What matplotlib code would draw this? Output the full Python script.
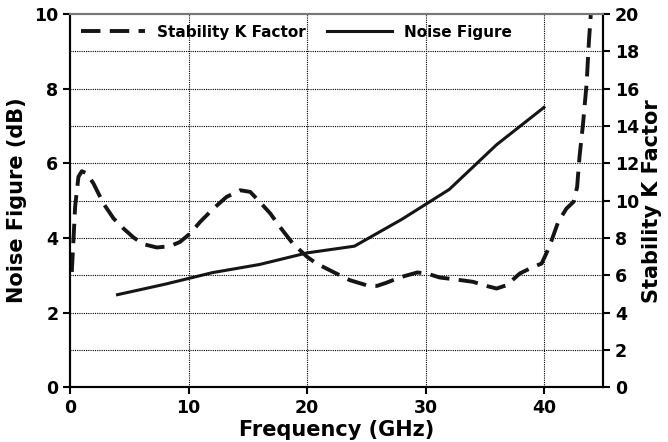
import matplotlib
matplotlib.use('Agg')
import matplotlib.pyplot as plt

# ── Data ──────────────────────────────────────────────────────────────────────
nf_freq = [4, 8, 12, 16, 20, 24, 28, 32, 36, 40]
nf_db   = [2.48, 2.76, 3.07, 3.29, 3.6, 3.78, 4.5, 5.3, 6.5, 7.5]

k_freq = [0.14, 0.28, 0.42, 0.70, 0.99, 1.41, 1.97, 2.81, 3.66, 4.5, 5.34,
          6.19, 7.31, 8.44, 9.28, 10.13, 10.97, 12.1, 13.2, 14.35, 15.2,
          16.0, 16.9, 17.7, 18.8, 20.0, 20.8, 22.2, 23.6, 25.0, 25.9, 26.7,
          27.8, 29.3, 30.1, 31.2, 32.6, 34.0, 35.2, 36.0, 36.85, 37.97, 39.1,
          39.8, 40.2, 40.65, 41.2, 41.9, 42.5, 42.8, 43.0, 43.3, 43.6, 43.8,
          43.95]
k_val  = [6.18, 7.88, 9.67, 11.28, 11.58, 11.46, 10.92, 9.85, 9.05, 8.51,
          8.03, 7.67, 7.49, 7.56, 7.79, 8.24, 8.86, 9.58, 10.2, 10.56, 10.47,
          9.94, 9.31, 8.6, 7.7, 6.99, 6.63, 6.18, 5.74, 5.47, 5.43, 5.6,
          5.88, 6.15, 6.1, 5.88, 5.77, 5.65, 5.42, 5.29, 5.47, 6.1, 6.45,
          6.63, 7.17, 7.88, 8.86, 9.58, 9.94, 10.74, 12.35, 14.14, 16.28,
          18.6, 19.95]

x_ticks = [0, 10, 20, 30, 40]
left_ticks = [0, 2, 4, 6, 8, 10]
right_ticks = [0, 2, 4, 6, 8, 10, 12, 14, 16, 18, 20]

plt.rcParams['font.family'] = 'DejaVu Sans'
plt.rcParams['font.weight'] = 'bold'

fig = plt.figure(figsize=(6.68, 4.42), dpi=100)
ax = fig.add_axes([0.105, 0.124, 0.798, 0.844])
ax2 = ax.twinx()

ln_k, = ax2.plot(k_freq, k_val, color='#151515', lw=2.8, ls=(0, (5, 2.4)),
                 label='Stability K Factor')
ln_nf, = ax.plot(nf_freq, nf_db, color='#151515', lw=2.2, label='Noise Figure')

ax.set_xlim(0, 45)
ax.set_ylim(0, 10)
ax2.set_ylim(0, 20)
ax.set_xticks(x_ticks)
ax.set_yticks(left_ticks)
ax2.set_yticks(right_ticks)

# grid: verticals at x ticks, horizontals at right-axis ticks
for xv in x_ticks[1:]:
    ax.axvline(xv, color='black', lw=0.8, ls=(0, (1, 1)), zorder=0)
for yv in right_ticks[1:-1]:
    ax2.axhline(yv, color='black', lw=0.8, ls=(0, (1, 1)), zorder=0)

for a in (ax, ax2):
    a.tick_params(labelsize=12.5, width=1.5, length=5, direction='out')
    for lbl in a.get_xticklabels() + a.get_yticklabels():
        lbl.set_fontweight('bold')
    a.spines['top'].set_color('#777777')
    a.spines['top'].set_linewidth(1.5)
    for s in ('left', 'bottom', 'right'):
        a.spines[s].set_linewidth(1.5)

ax.set_xlabel('Frequency (GHz)', fontsize=15, fontweight='bold', labelpad=2)
ax.set_ylabel('Noise Figure (dB)', fontsize=15, fontweight='bold', labelpad=5)
ax2.set_ylabel('Stability K Factor', fontsize=15, fontweight='bold', labelpad=2)

ax.legend([ln_k, ln_nf], ['Stability K Factor', 'Noise Figure'],
          loc='upper left', ncol=2, frameon=False,
          handlelength=4.2, columnspacing=1.4, borderaxespad=0.3,
          prop={'weight': 'bold', 'size': 11})

fig.savefig('out.png', dpi=100)
